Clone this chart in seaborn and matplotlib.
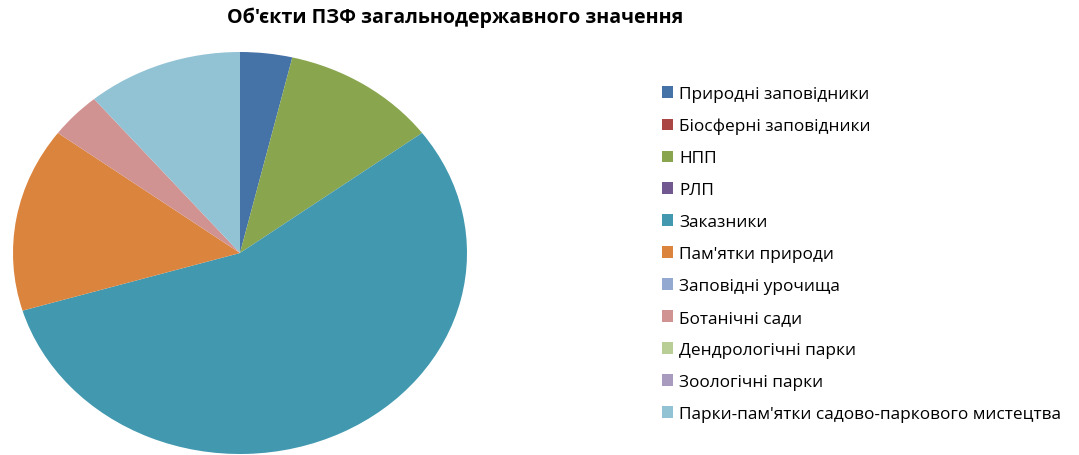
import matplotlib
matplotlib.use("Agg")
import matplotlib.pyplot as plt
import matplotlib.patches as mpatches
import seaborn as sns

# -----------------------------
# Data
# -----------------------------
categories = [
    "Природні заповідники",
    "Біосферні заповідники",
    "НПП",
    "РЛП",
    "Заказники",
    "Пам'ятки природи",
    "Заповідні урочища",
    "Ботанічні сади",
    "Дендрологічні парки",
    "Зоологічні парки",
    "Парки-пам'ятки садово-паркового мистецтва",
]
counts = [1, 0, 3, 0, 15, 4, 0, 1, 0, 0, 3]
colors = [
    "#4572A7", "#AA4643", "#89A54E", "#71588F", "#4198AF", "#DB843D",
    "#93A9CF", "#D19392", "#B9CD96", "#A99BBD", "#92C3D5",
]
title = "Об'єкти ПЗФ загальнодержавного значення"

# -----------------------------
# Style
# -----------------------------
sns.set_theme(style="white")
plt.rcParams["font.family"] = ["Open Sans", "DejaVu Sans"]

fig = plt.figure(figsize=(10.79, 4.56), dpi=100)
fig.patch.set_facecolor("white")

# elliptical pie, like the stretched Excel chart
ax = fig.add_axes([13 / 1079, 1 / 456, 454 / 1079, 402 / 456])
ax.pie(
    counts,
    colors=colors,
    startangle=90,
    counterclock=False,
    wedgeprops={"linewidth": 0},
)
ax.set_aspect("auto")
ax.set_xlim(-1, 1)
ax.set_ylim(-1, 1)
ax.axis("off")

fig.text(455 / 1079, 1 - 18 / 456, title, ha="center", va="center",
         fontsize=14.1, fontweight="bold", color="#000000")

handles = [mpatches.Patch(facecolor=c, edgecolor="none") for c in colors]
fig.legend(
    handles, categories,
    loc="upper left",
    bbox_to_anchor=(662 / 1079, 1 - 87 / 456),
    frameon=False,
    fontsize=12.4,
    handlelength=0.65,
    handleheight=0.65,
    handletextpad=0.35,
    labelspacing=0.925,
    borderaxespad=0,
    borderpad=0,
    labelcolor="#000000",
)

fig.savefig("out.png", dpi=100)
plt.close(fig)
